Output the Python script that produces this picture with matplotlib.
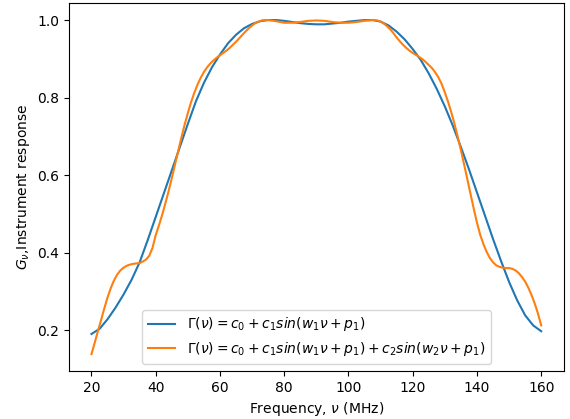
import numpy as np
import matplotlib.pyplot as plt

# single-sine fit (blue)
freq_1 = [20, 22.5, 25, 27.5, 30, 32.5, 35, 37.5, 40, 42.5, 45, 47.5, 50, 52.5,
          55, 57.5, 60, 62.5, 65, 67.5, 70, 72.5, 75, 77.5, 80, 82.5, 85, 87.5,
          90, 92.5, 95, 97.5, 100, 102.5, 105, 107.5, 110, 112.5, 115, 117.5,
          120, 122.5, 125, 127.5, 130, 132.5, 135, 137.5, 140, 142.5, 145,
          147.5, 150, 152.5, 155, 157.5, 160]
resp_1 = [0.190, 0.203, 0.228, 0.258, 0.292, 0.330, 0.375, 0.432, 0.492, 0.552,
          0.612, 0.672, 0.732, 0.790, 0.838, 0.878, 0.911, 0.940, 0.962, 0.979,
          0.990, 0.997, 1.000, 1.000, 0.998, 0.995, 0.992, 0.990, 0.989, 0.989,
          0.991, 0.993, 0.996, 0.998, 1.000, 1.000, 0.996, 0.986, 0.970, 0.950,
          0.925, 0.897, 0.862, 0.822, 0.777, 0.727, 0.672, 0.615, 0.555, 0.495,
          0.435, 0.378, 0.324, 0.277, 0.238, 0.212, 0.197]

# two-sine fit (orange)
freq_2 = [20, 21, 22, 23, 24, 25, 26, 27, 28, 29, 30, 31, 32, 33, 34, 35, 36,
          37, 38, 39, 40, 41, 42, 43, 44, 45, 46, 47, 48, 49, 50, 51, 52, 53,
          54, 55, 56, 57, 58, 59, 60, 61, 62, 63, 64, 65, 66, 67, 68, 69, 70,
          71, 72, 73, 74, 75, 76, 77.5, 80, 82.5, 85, 87.5, 90, 92.5, 95, 97.5,
          100, 102.5, 105, 107.5, 109, 110, 111, 112, 113, 114, 115, 116, 117,
          118, 119, 120, 121, 122, 123, 124, 125, 126, 127, 128, 129, 130, 131,
          132, 133, 134, 135, 136, 137, 138, 139, 140, 141, 142, 143, 144, 145,
          146, 147, 148, 149, 150, 151, 152, 153, 154, 155, 156, 157, 158, 159,
          160]
resp_2 = [0.138, 0.167, 0.197, 0.226, 0.256, 0.284, 0.308, 0.328, 0.343, 0.354,
          0.361, 0.366, 0.369, 0.371, 0.372, 0.373, 0.377, 0.382, 0.392, 0.412,
          0.445, 0.470, 0.497, 0.527, 0.558, 0.592, 0.627, 0.662, 0.697, 0.730,
          0.760, 0.788, 0.812, 0.833, 0.851, 0.866, 0.878, 0.888, 0.896, 0.903,
          0.909, 0.915, 0.921, 0.928, 0.936, 0.944, 0.953, 0.962, 0.971, 0.979,
          0.986, 0.992, 0.996, 0.999, 1.000, 1.000, 0.999, 0.997, 0.993, 0.993,
          0.995, 0.998, 0.999, 0.998, 0.995, 0.993, 0.993, 0.995, 0.998, 1.000,
          0.999, 0.996, 0.991, 0.984, 0.976, 0.966, 0.955, 0.945, 0.936, 0.928,
          0.921, 0.915, 0.910, 0.905, 0.899, 0.892, 0.884, 0.876, 0.865, 0.852,
          0.835, 0.813, 0.789, 0.762, 0.732, 0.699, 0.664, 0.627, 0.589, 0.551,
          0.513, 0.477, 0.446, 0.422, 0.402, 0.386, 0.375, 0.367, 0.363, 0.361,
          0.360, 0.360, 0.358, 0.354, 0.347, 0.337, 0.325, 0.309, 0.290, 0.268,
          0.242, 0.212]

label_1 = r'$\Gamma(\nu) = c_0 + c_1 sin(w_1 \nu + p_1)$'
label_2 = r'$\Gamma(\nu) = c_0 + c_1 sin(w_1 \nu + p_1) + c_2 sin(w_2 \nu + p_1)$'

fig = plt.figure(figsize=(5.7, 4.19), dpi=100)
ax = fig.add_axes([0.121, 0.115, 0.868, 0.877])
ax.plot(freq_1, resp_1, label=label_1)
ax.plot(freq_2, resp_2, label=label_2)
ax.set_xlabel(r'Frequency, $\nu$ (MHz)')
ax.set_ylabel(r'$G_\nu$,Instrument response')
ax.legend(loc='lower center')
fig.savefig('out.png')
